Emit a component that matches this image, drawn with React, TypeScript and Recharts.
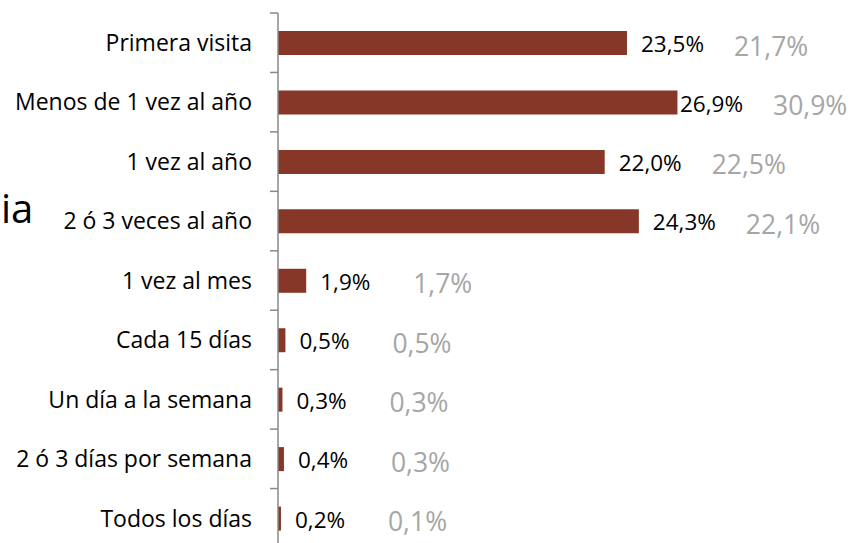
import { Bar, BarChart, LabelList, XAxis, YAxis } from "recharts";

const categories = [
  "Primera visita",
  "Menos de 1 vez al año",
  "1 vez al año",
  "2 ó 3 veces al año",
  "1 vez al mes",
  "Cada 15 días",
  "Un día a la semana",
  "2 ó 3 días por semana",
  "Todos los días"
];
const actual = [23.5, 26.9, 22.0, 24.3, 1.9, 0.5, 0.3, 0.4, 0.2];
const previous = [21.7, 30.9, 22.5, 22.1, 1.7, 0.5, 0.3, 0.3, 0.1];
// only the tail of the side title is visible in the original picture
const sideTitle = "ia";

const data = categories.map((name, i) => ({ name, actual: actual[i], previous: previous[i] }));

const FONT = "'Open Sans', sans-serif";
const TOP = 13;
const BOTTOM = 12;
const HEIGHT = 560;
const BAND = (HEIGHT - TOP - BOTTOM) / categories.length;
// labels get pushed left when they would run off the right edge
const GRAY_MAX_X = 773;
const grayX = (end: number) => Math.min(end + 107, GRAY_MAX_X);
const blackX = (end: number) => Math.min(end + 16, grayX(end) - 93);

const fmt = (v: number) => v.toFixed(1).replace(".", ",") + "%";

function CategoryTick(props: any) {
  const { x, y, payload } = props;
  const lx = x + 18;
  return (
    <g>
      <line x1={lx} x2={lx + 8} y1={y - BAND / 2} y2={y - BAND / 2} stroke="#898989" strokeWidth={1.5} />
      <text x={x} y={y} dy="0.36em" textAnchor="end" fill="#000" fontSize={23} fontFamily={FONT}>
        {payload.value}
      </text>
    </g>
  );
}

function ActualLabel(props: any) {
  const { x, y, width, height, value } = props;
  return (
    <text x={blackX(x + width)} y={y + height / 2 + 1} dy="0.36em" fill="#000" fontSize={22.5} fontFamily={FONT}>
      {fmt(value)}
    </text>
  );
}

function PreviousLabel(props: any) {
  const { x, y, width, height, value } = props;
  return (
    <text x={grayX(x + width)} y={y + height / 2 + 3} dy="0.36em" fill="#a6a6a6" fontSize={26.5} fontFamily={FONT}>
      {fmt(value)}
    </text>
  );
}

export default function App() {
  return (
    <div style={{ position: "absolute", left: 0, top: 0, width: 855, height: 543, overflow: "hidden", background: "#fff" }}>
      <div
        style={{
          position: "absolute",
          left: 1,
          top: 180,
          fontFamily: FONT,
          fontSize: 40,
          color: "#000",
          whiteSpace: "nowrap"
        }}
      >
        {sideTitle}
      </div>
      <BarChart
        width={855}
        height={HEIGHT}
        data={data}
        layout="vertical"
        margin={{ top: TOP, right: 131.5, bottom: BOTTOM, left: 0 }}
      >
        <XAxis type="number" domain={[0, 30]} hide />
        <YAxis
          type="category"
          dataKey="name"
          width={278}
          tickSize={8}
          tickMargin={18}
          tickLine={false}
          axisLine={{ stroke: "#898989", strokeWidth: 1.5 }}
          tick={<CategoryTick />}
          interval={0}
        />
        <Bar dataKey="actual" fill="#873727" barSize={24} isAnimationActive={false}>
          <LabelList dataKey="actual" content={<ActualLabel />} />
          <LabelList dataKey="previous" content={<PreviousLabel />} />
        </Bar>
      </BarChart>
    </div>
  );
}
